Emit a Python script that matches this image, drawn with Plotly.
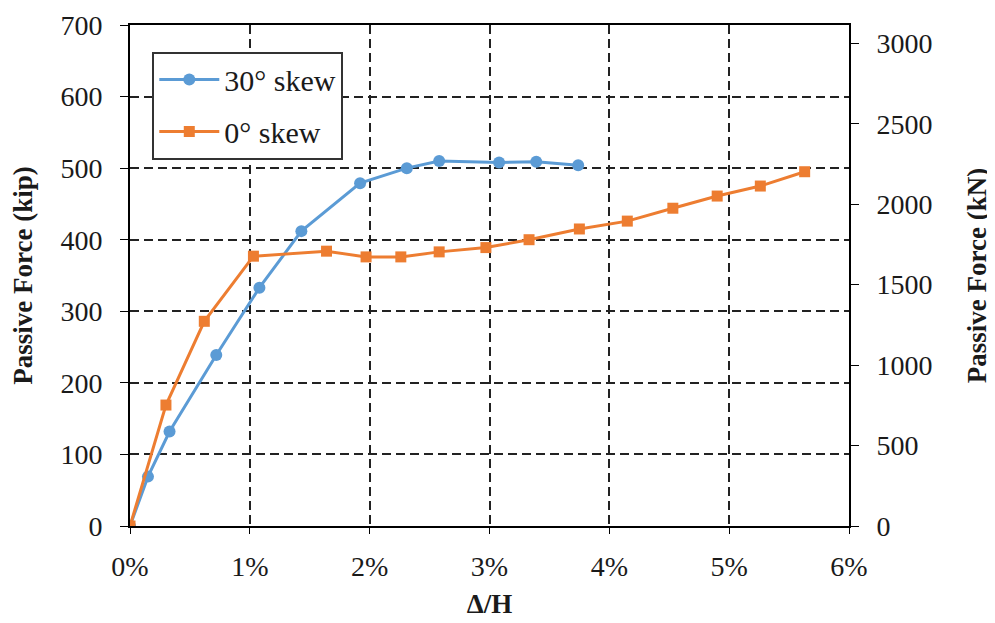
import plotly.graph_objects as go

# Data (Δ/H in %, passive force in kip)
skew30_x = [0.0, 0.15, 0.33, 0.72, 1.08, 1.43, 1.92, 2.31, 2.58, 3.08, 3.39, 3.74]
skew30_y = [0, 69, 132, 239, 333, 412, 479, 500, 510, 508, 509, 504]
skew0_x = [0.0, 0.30, 0.62, 1.03, 1.64, 1.97, 2.26, 2.58, 2.97, 3.33, 3.75, 4.15, 4.53, 4.90, 5.26, 5.63]
skew0_y = [0, 169, 286, 377, 384, 376, 376, 383, 389, 400, 415, 426, 444, 461, 475, 495]

x_ticks = [0, 1, 2, 3, 4, 5, 6]
x_labels = ["0%", "1%", "2%", "3%", "4%", "5%", "6%"]
kip_ticks = [0, 100, 200, 300, 400, 500, 600, 700]
kn_ticks = [0, 500, 1000, 1500, 2000, 2500, 3000]
KIP_TO_KN = 4.448222

FONT = "Liberation Serif"
BLUE = "#5B9BD5"
ORANGE = "#ED7D31"
TXT = "#1a1a1a"

fig = go.Figure()
fig.add_trace(go.Scatter(
    x=skew30_x, y=skew30_y, mode="lines+markers", name="30° skew",
    legendgroup="a",
    line=dict(color=BLUE, width=3),
    marker=dict(symbol="circle", size=12, color=BLUE),
))
fig.add_trace(go.Scatter(
    x=skew0_x, y=skew0_y, mode="lines+markers", name="0° skew",
    legendgroup="b",
    line=dict(color=ORANGE, width=3),
    marker=dict(symbol="square", size=11, color=ORANGE),
))
# invisible trace to activate the secondary axis
fig.add_trace(go.Scatter(x=[0], y=[0], yaxis="y2", mode="markers",
                         marker=dict(opacity=0), showlegend=False, hoverinfo="skip"))

GRID = dict(showgrid=True, gridcolor="#222222", griddash="9px,5px", gridwidth=1.5)
TICKF = dict(family=FONT, size=28, color=TXT)
TITLEF = dict(family=FONT, size=27, color=TXT)

fig.update_layout(
    width=995, height=623,
    margin=dict(l=122, r=154, t=17, b=105),
    paper_bgcolor="white", plot_bgcolor="white",
    font=dict(family=FONT, size=28, color=TXT),
    showlegend=True,
    legend=dict(
        x=0.031, y=0.947, xanchor="left", yanchor="top",
        bgcolor="white", bordercolor="#333333", borderwidth=2,
        font=dict(family=FONT, size=30, color=TXT),
        traceorder="grouped", tracegroupgap=10, itemwidth=60,
    ),
    xaxis=dict(
        range=[0, 6], tickvals=x_ticks, ticktext=x_labels, **GRID,
        showline=True, linecolor="black", linewidth=2, mirror=True,
        ticks="outside", ticklen=6, tickcolor="black", ticklabelstandoff=8,
        zeroline=False, automargin=False, ticklabeloverflow="allow",
        title=dict(text="<b>Δ/H</b>", font=TITLEF, standoff=14),
        tickfont=TICKF,
    ),
    yaxis=dict(
        range=[0, 700], tickvals=kip_ticks, **GRID,
        showline=True, linecolor="black", linewidth=2,
        ticks="outside", ticklen=8, tickcolor="black", ticklabelstandoff=12,
        zeroline=False, automargin=False, ticklabeloverflow="allow",
        title=dict(text="<b>Passive Force (kip)</b>", font=TITLEF, standoff=20),
        tickfont=TICKF,
    ),
    yaxis2=dict(
        overlaying="y", side="right",
        range=[0, 700 * KIP_TO_KN], tickvals=kn_ticks,
        showgrid=False, showline=True, linecolor="black", linewidth=2,
        ticks="outside", ticklen=8, tickcolor="black", ticklabelstandoff=12,
        zeroline=False, automargin=False, ticklabeloverflow="allow",
        title=dict(text="<b>Passive Force (kN)</b>", font=TITLEF, standoff=36),
        tickfont=TICKF,
    ),
)

fig.write_html("out.html")
